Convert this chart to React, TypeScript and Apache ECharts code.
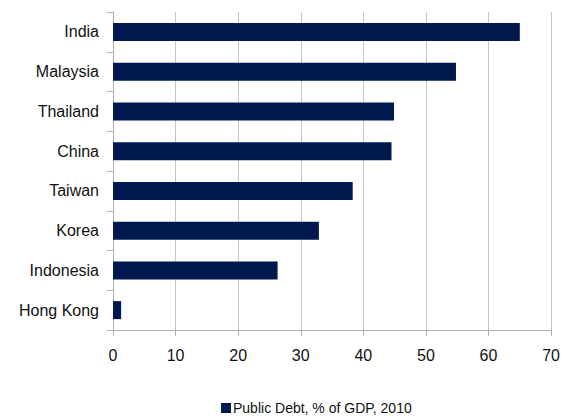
import React, { useEffect, useRef } from "react";
import * as echarts from "echarts";

const categories = ["India", "Malaysia", "Thailand", "China", "Taiwan", "Korea", "Indonesia", "Hong Kong"];
const debtValues = [65.0, 54.8, 44.9, 44.5, 38.3, 32.9, 26.3, 1.3];
const seriesName = "Public Debt, % of GDP, 2010";

const FONT = "'Liberation Sans', Arial, sans-serif";

export default function App() {
  const ref = useRef<HTMLDivElement>(null);
  useEffect(() => {
    document.body.style.margin = "0";
    const chart = echarts.init(ref.current!, null, { renderer: "svg" });
    chart.setOption({
      animation: false,
      textStyle: { fontFamily: FONT },
      grid: { left: 113, right: 11, top: 12, bottom: 86, containLabel: false },
      legend: {
        top: 396,
        left: 216,
        padding: 5,
        itemWidth: 10,
        itemHeight: 10,
        itemGap: 10,
        icon: "rect",
        textStyle: { fontSize: 14, lineHeight: 14, color: "#111", fontFamily: FONT, padding: [0, 0, 0, -3] },
        data: [seriesName],
      },
      xAxis: {
        type: "value",
        min: 0,
        max: 70,
        interval: 10,
        axisLine: { show: true, lineStyle: { color: "#b3b3b3", width: 1 } },
        axisTick: { show: true, length: 6, lineStyle: { color: "#b3b3b3" } },
        splitLine: { show: true, lineStyle: { color: "#c6c6c6", width: 1 } },
        axisLabel: { fontSize: 16, color: "#111", margin: 17, fontFamily: FONT },
      },
      yAxis: {
        type: "category",
        inverse: true,
        data: categories,
        axisLine: { show: true, lineStyle: { color: "#b3b3b3", width: 1 } },
        axisTick: { show: true, length: 6, lineStyle: { color: "#b3b3b3" } },
        axisLabel: { fontSize: 16, color: "#111", margin: 14, fontFamily: FONT },
      },
      series: [
        {
          name: seriesName,
          type: "bar",
          data: debtValues,
          barWidth: 18,
          itemStyle: { color: "#001a50" },
        },
      ],
    });
    return () => chart.dispose();
  }, []);
  return <div ref={ref} style={{ width: 563, height: 416 }} />;
}
